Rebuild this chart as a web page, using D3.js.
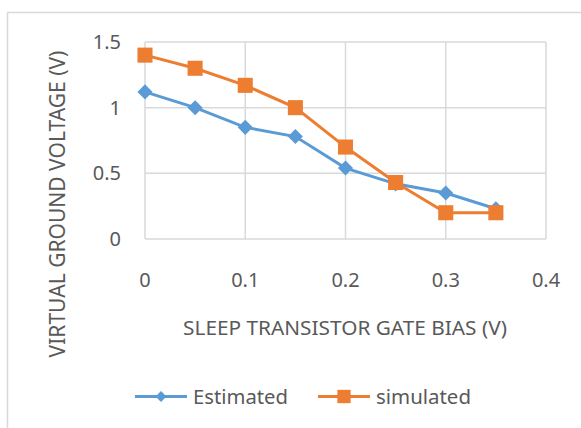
<!DOCTYPE html>
<html>
<head>
<meta charset="utf-8">
<script src="https://cdn.jsdelivr.net/npm/d3@7.9.0/dist/d3.min.js"></script>
<style>
  body { margin: 0; background: #fff; }
  svg text { font-family: 'Noto Sans', sans-serif; fill: #595959; }
</style>
</head>
<body>
<svg id="chart" width="581" height="428"></svg>
<script>
const xValues = [0, 0.05, 0.1, 0.15, 0.2, 0.25, 0.3, 0.35];
const estimated = [1.12, 1.0, 0.85, 0.78, 0.54, 0.42, 0.35, 0.23];
const simulated = [1.4, 1.3, 1.17, 1.0, 0.7, 0.43, 0.2, 0.2];
const xTicks = [0, 0.1, 0.2, 0.3, 0.4];
const yTicks = [0, 0.5, 1, 1.5];

const blue = '#5b9bd5';
const orange = '#ed7d31';
const grid = '#d9d9d9';

const svg = d3.select('#chart');

// shrink/grow a text so it spans the given width (Calibri substitute)
function fitText(sel, width) {
  const len = sel.node().getComputedTextLength();
  const fs = parseFloat(sel.attr('font-size'));
  sel.attr('font-size', (fs * width) / len);
}

// outer chart frame, runs off the right and bottom edge
svg.append('rect')
  .attr('x', 7.5).attr('y', 12.5)
  .attr('width', 620).attr('height', 460)
  .attr('fill', 'none').attr('stroke', grid).attr('stroke-width', 1.5);

const x = d3.scaleLinear().domain([0, 0.4]).range([145, 546]);
const y = d3.scaleLinear().domain([0, 1.5]).range([239, 42]);

// gridlines
svg.append('g').selectAll('line').data(yTicks).join('line')
  .attr('x1', x(0)).attr('x2', x(0.4))
  .attr('y1', (d) => y(d)).attr('y2', (d) => y(d))
  .attr('stroke', grid).attr('stroke-width', 1.5);

svg.append('g').selectAll('line').data(xTicks).join('line')
  .attr('x1', (d) => x(d)).attr('x2', (d) => x(d))
  .attr('y1', y(0)).attr('y2', y(1.5))
  .attr('stroke', grid).attr('stroke-width', 1.5);

// tick labels
svg.append('g').selectAll('text').data(yTicks).join('text')
  .attr('x', 121).attr('y', (d) => y(d) + 7)
  .attr('text-anchor', 'end')
  .attr('font-size', 20)
  .text((d) => d);

svg.append('g').selectAll('text').data(xTicks).join('text')
  .attr('x', (d) => x(d)).attr('y', 287)
  .attr('text-anchor', 'middle')
  .attr('font-size', 20)
  .text((d) => d);

// axis titles
const xTitle = svg.append('text')
  .attr('x', 345).attr('y', 335)
  .attr('text-anchor', 'middle')
  .attr('font-size', 20)
  .text('SLEEP TRANSISTOR GATE BIAS (V)');
fitText(xTitle, 324);

const yTitle = svg.append('text')
  .attr('transform', 'translate(65,204) rotate(-90)')
  .attr('text-anchor', 'middle')
  .attr('font-size', 20)
  .text('VIRTUAL GROUND VOLTAGE (V)');
fitText(yTitle, 307);

const line = d3.line()
  .x((d, i) => x(xValues[i]))
  .y((d) => y(d));

const diamond = d3.symbol().type(d3.symbolDiamond2);
const square = d3.symbol().type(d3.symbolSquare2);

function drawSeries(values, color, sym, size) {
  svg.append('path')
    .datum(values)
    .attr('d', line)
    .attr('fill', 'none')
    .attr('stroke', color)
    .attr('stroke-width', 3);
  svg.append('g').selectAll('path').data(values).join('path')
    .attr('transform', (d, i) => `translate(${x(xValues[i])},${y(d)})`)
    .attr('d', sym.size(size))
    .attr('fill', color);
}

drawSeries(estimated, blue, diamond, 145);
drawSeries(simulated, orange, square, 289);

// legend
const legendItems = [
  { name: 'Estimated', color: blue, sym: diamond, size: 75, x0: 135 },
  { name: 'simulated', color: orange, sym: square, size: 225, x0: 318 },
];
const legendY = 396.5;
legendItems.forEach((item) => {
  svg.append('line')
    .attr('x1', item.x0).attr('x2', item.x0 + 52)
    .attr('y1', legendY).attr('y2', legendY)
    .attr('stroke', item.color).attr('stroke-width', 3);
  svg.append('path')
    .attr('transform', `translate(${item.x0 + 26},${legendY})`)
    .attr('d', item.sym.size(item.size))
    .attr('fill', item.color);
  const t = svg.append('text')
    .attr('x', item.x0 + 58).attr('y', legendY + 7)
    .attr('font-size', 20)
    .text(item.name);
  fitText(t, 95);
});
</script>
</body>
</html>
